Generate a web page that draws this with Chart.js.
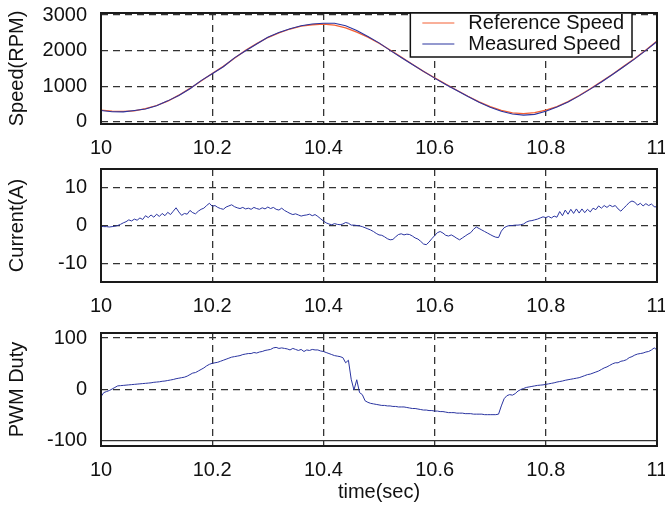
<!DOCTYPE html>
<html>
<head>
<meta charset="utf-8">
<script src="https://cdn.jsdelivr.net/npm/chart.js@4.4.1/dist/chart.umd.min.js"></script>
<style>
  html, body { margin: 0; padding: 0; background: #fff; }
  #wrap { position: relative; width: 665px; height: 513px; overflow: hidden; }
  #wrap canvas { position: absolute; left: 0; }
</style>
</head>
<body>
<div id="wrap">
  <canvas id="speed-chart" width="665" height="160" style="top:0px"></canvas>
  <canvas id="current-chart" width="665" height="155" style="top:160px"></canvas>
  <canvas id="duty-chart" width="665" height="198" style="top:315px"></canvas>
</div>
<script>
// Tick positions for every panel
const timeTicks = [10, 10.2, 10.4, 10.6, 10.8, 11];
const speedTicks = [0, 1000, 2000, 3000];
const currentTicks = [-10, 0, 10];
const dutyTicks = [-100, 0, 100];

// Logged samples start at t = 10 s
const startTime = 10;
const speedStep = 0.02;   // speed log interval (s)
const sampleStep = 0.005; // current / duty log interval (s)

// Speed (RPM)
const refSpeed = [
  330, 300, 295, 310, 370, 460, 580, 750, 940, 1150,
  1360, 1560, 1790, 2010, 2200, 2370, 2500, 2610, 2690, 2730,
  2750, 2720, 2640, 2520, 2380, 2210, 2020, 1820, 1620, 1420,
  1240, 1060, 890, 720, 560, 430, 320, 250, 230, 260,
  330, 430, 570, 740, 930, 1130, 1340, 1560, 1780, 2020,
  2270
];
const measSpeed = [
  320, 285, 280, 320, 360, 450, 590, 740, 930, 1160,
  1350, 1550, 1800, 2000, 2190, 2380, 2510, 2620, 2700, 2750,
  2770, 2770, 2700, 2570, 2400, 2220, 2010, 1810, 1610, 1420,
  1230, 1050, 880, 710, 550, 410, 300, 220, 190, 210,
  300, 420, 560, 730, 920, 1120, 1330, 1550, 1770, 2010,
  2260
];

// Phase current (A)
const current = [
  -0.2, -0.3, -0.3, -0.4, -0.3, -0.2, 0.0, 0.3, 0.7, 1.0,
  1.5, 1.2, 1.7, 1.4, 2.0, 1.6, 2.6, 2.1, 2.8, 2.2,
  3.0, 2.4, 3.2, 2.6, 3.5, 2.9, 3.8, 4.7, 3.6, 2.7,
  3.2, 3.0, 4.0, 3.4, 3.1, 3.8, 4.3, 4.6, 5.3, 5.9,
  5.1, 5.3, 4.8, 4.5, 4.3, 4.9, 5.2, 5.5, 5.0, 4.7,
  4.5, 4.8, 4.4, 4.6, 4.3, 4.8, 4.5, 4.3, 4.7, 4.4,
  4.9, 4.5, 4.8, 4.3, 4.1, 4.6, 4.0, 3.6, 3.2, 2.9,
  3.1, 2.8, 2.5, 2.7, 2.8, 3.0, 2.6, 2.9, 2.4, 1.8,
  1.2, 0.7, 0.4, 0.2, 0.5, 0.3, 0.2, 0.4, 0.8, 0.6,
  0.1, 0.1, 0.0, -0.1, -0.3, -0.6, -0.9, -1.2, -1.6, -2.1,
  -2.5, -2.6, -3.0, -3.5, -3.8, -3.7, -3.0, -2.4, -2.2, -2.5,
  -2.3, -2.4, -2.8, -3.3, -3.6, -4.2, -4.9, -5.1, -4.4, -3.5,
  -2.7, -1.9, -1.6, -2.0, -2.6, -2.8, -2.5, -2.9, -3.4, -3.8,
  -3.3, -2.8, -2.3, -1.9, -1.0, -0.4, -0.8, -1.2, -1.6, -2.0,
  -2.4, -2.8, -3.1, -3.2, -1.5, -0.6, -0.2, 0.0, 0.0, 0.1,
  0.1, 0.2, 0.4, 0.9, 1.2, 1.3, 1.5, 1.7, 2.0, 2.3,
  2.1, 2.4, 2.0, 2.5, 2.2, 3.7, 2.6, 4.1, 3.0, 4.3,
  3.2, 4.4, 3.3, 4.4, 3.4, 4.3, 3.6, 4.6, 4.2, 5.2,
  4.6, 5.3, 4.8, 5.4, 5.0, 5.3, 4.4, 3.8, 4.6, 5.3,
  6.1, 6.5, 6.2, 5.4, 5.9, 5.2, 5.8, 5.3, 5.7, 5.0,
  4.9
];

// PWM duty (%)
const pwmDuty = [
  -14, -6, -4, -2, 1, 4, 7, 7.5, 8, 8.5,
  9, 9.5, 10, 10.5, 11, 11.5, 12, 12.5, 13, 14,
  14.5, 15, 16, 16.5, 17.5, 18.5, 19.5, 21, 22, 23,
  24, 26, 29, 32, 33, 36, 39, 42, 46, 49,
  51, 52, 53, 55, 57, 59, 61, 63, 64, 65,
  66, 68, 69, 70, 70, 72, 71, 73, 74, 76,
  77, 78, 81, 82, 80, 81, 80, 79, 77, 80,
  78, 76, 78, 74, 77, 76, 78, 77, 77, 75,
  74, 72, 70, 68, 66, 65, 64, 62, 52, 57,
  20, -1, 19, -6, -10, -22, -25, -27, -28, -29,
  -30, -31, -31, -32, -32, -33, -33, -34, -34, -34,
  -35, -36, -37, -37, -38, -39, -40, -40, -41, -41,
  -42, -42, -43, -43, -44, -45, -45, -45, -46, -46,
  -46, -47, -47, -47, -48, -48, -48, -48, -49, -49,
  -49, -49, -49, -48, -32, -18, -12, -10, -11, -8,
  -3, 0, 2, 4, 5, 6, 7, 8, 8.5, 9,
  10, 11, 12, 13, 14.5, 15.5, 16.5, 18, 19, 20,
  21, 22, 23, 25, 27, 29, 30, 32, 34, 36,
  39, 42, 44, 47, 50, 52, 52, 55, 56, 58,
  62, 64, 67, 69, 70, 71, 73, 74, 77, 81,
  77
];

const refColor = 'rgb(243, 96, 52)';
const lineColor = 'rgb(42, 52, 160)';
const gridColor = '#333';
const fontFamily = '"Liberation Sans", Arial, Helvetica, sans-serif';
const tickFont = { family: fontFamily, size: 20 };
const gridDash = [7, 5];

// pair each value with its sample time
const toPoints = (values, step) =>
  values.map((v, i) => ({ x: +(startTime + i * step).toFixed(3), y: v }));

// solid frame around the plot area
const frameBox = {
  id: 'frameBox',
  afterDraw(chart) {
    const { ctx, chartArea: a } = chart;
    ctx.save();
    ctx.strokeStyle = '#1a1a1a';
    ctx.lineWidth = 2;
    ctx.strokeRect(a.left, a.top, a.right - a.left, a.bottom - a.top);
    ctx.restore();
  }
};

// boxed legend in the upper right corner of the speed plot
const speedLegend = {
  id: 'speedLegend',
  afterDraw(chart) {
    const { ctx, chartArea: a } = chart;
    const sets = chart.data.datasets;
    ctx.save();
    ctx.font = '20px ' + fontFamily;
    const textW = Math.max(...sets.map(d => ctx.measureText(d.label).width));
    const rowH = 21, lineLen = 32;
    const w = 12 + lineLen + 14 + textW + 8;
    const h = rowH * sets.length + 2;
    const x0 = a.right - 25 - w, y0 = a.top;
    ctx.fillStyle = '#fff';
    ctx.fillRect(x0, y0, w, h);
    ctx.strokeStyle = '#111';
    ctx.lineWidth = 1.5;
    ctx.strokeRect(x0, y0, w, h);
    ctx.textBaseline = 'middle';
    sets.forEach((d, i) => {
      const cy = y0 + 10 + i * rowH;
      ctx.strokeStyle = d.borderColor;
      ctx.lineWidth = 1.2;
      ctx.beginPath();
      ctx.moveTo(x0 + 12, cy);
      ctx.lineTo(x0 + 12 + lineLen, cy);
      ctx.stroke();
      ctx.fillStyle = '#111';
      ctx.fillText(d.label, x0 + 12 + lineLen + 14, cy);
    });
    ctx.restore();
  }
};

function panelOptions(cfg) {
  return {
    responsive: false,
    animation: false,
    layout: { padding: { top: cfg.padTop, right: 8, left: 0, bottom: 0 } },
    plugins: { legend: { display: false }, tooltip: { enabled: false } },
    elements: { point: { radius: 0 }, line: { borderWidth: 1, tension: 0 } },
    scales: {
      x: {
        type: 'linear',
        min: 10,
        max: 11,
        afterBuildTicks: s => { s.ticks = timeTicks.map(v => ({ value: v })); },
        afterFit: s => { s.height = cfg.xHeight; s.paddingLeft = 0; s.paddingRight = 0; },
        grid: { color: gridColor, lineWidth: 1.3, drawTicks: false },
        border: { display: false, dash: gridDash },
        ticks: {
          padding: 12,
          color: '#111',
          font: tickFont,
          maxRotation: 0,
          autoSkip: false,
          callback: v => String(+v.toFixed(1))
        },
        title: {
          display: !!cfg.xTitle,
          text: cfg.xTitle || '',
          color: '#111',
          font: tickFont,
          padding: { top: 0, bottom: 9 }
        }
      },
      y: {
        min: cfg.yMin,
        max: cfg.yMax,
        afterBuildTicks: s => { s.ticks = cfg.yTicks.map(v => ({ value: v })); },
        afterFit: s => { s.width = 101; s.paddingTop = 0; s.paddingBottom = 0; },
        grid: { color: gridColor, lineWidth: 1.3, drawTicks: false },
        border: {
          display: false,
          // the duty panel's lower limit line is drawn solid
          dash: ctx => (ctx.tick && ctx.tick.value === cfg.solidAt ? [] : gridDash)
        },
        ticks: {
          padding: 14,
          color: '#111',
          font: tickFont,
          callback: v => String(v)
        },
        title: {
          display: true,
          text: cfg.yTitle,
          color: '#111',
          font: tickFont,
          padding: { top: 5, bottom: 0 }
        }
      }
    }
  };
}

// Speed panel
new Chart(document.getElementById('speed-chart'), {
  type: 'line',
  data: {
    datasets: [
      { label: 'Reference Speed', data: toPoints(refSpeed, speedStep), borderColor: refColor, borderWidth: 1.3, order: 1 },
      { label: 'Measured Speed', data: toPoints(measSpeed, speedStep), borderColor: lineColor, borderWidth: 1.1, order: 0 }
    ]
  },
  options: panelOptions({ padTop: 13, xHeight: 36, yMin: -60, yMax: 3060, yTicks: speedTicks, yTitle: 'Speed(RPM)' }),
  plugins: [frameBox, speedLegend]
});

// Current panel
new Chart(document.getElementById('current-chart'), {
  type: 'line',
  data: {
    datasets: [
      { label: 'Current', data: toPoints(current, sampleStep), borderColor: lineColor, borderWidth: 1 }
    ]
  },
  options: panelOptions({ padTop: 9, xHeight: 33, yMin: -15, yMax: 15, yTicks: currentTicks, yTitle: 'Current(A)' }),
  plugins: [frameBox]
});

// PWM duty panel
new Chart(document.getElementById('duty-chart'), {
  type: 'line',
  data: {
    datasets: [
      { label: 'PWM Duty', data: toPoints(pwmDuty, sampleStep), borderColor: lineColor, borderWidth: 1 }
    ]
  },
  options: panelOptions({ padTop: 18, xHeight: 67, yMin: -110, yMax: 110, yTicks: dutyTicks, solidAt: -100, yTitle: 'PWM Duty', xTitle: 'time(sec)' }),
  plugins: [frameBox]
});
</script>
</body>
</html>
